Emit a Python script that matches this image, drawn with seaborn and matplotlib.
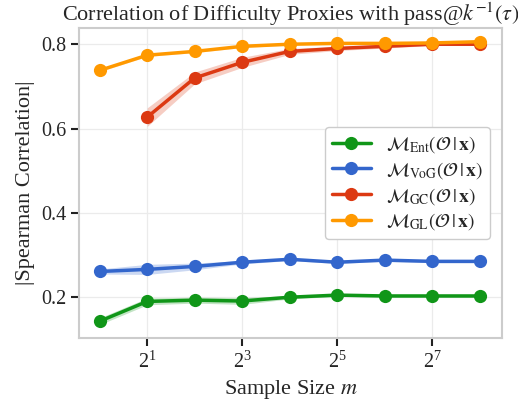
import numpy as np
import pandas as pd
import matplotlib
matplotlib.use("Agg")
import matplotlib.pyplot as plt
from matplotlib.ticker import LogFormatterSciNotation, NullLocator
import seaborn as sns

# datos
sample_sizes = [1, 2, 4, 8, 16, 32, 64, 128, 256]

ent_mean = [0.143, 0.190, 0.193, 0.191, 0.200, 0.205, 0.203, 0.203, 0.203]
ent_err = [0.008, 0.008, 0.007, 0.008, 0.004, 0.003, 0.003, 0.003, 0.003]

vog_mean = [0.261, 0.266, 0.273, 0.283, 0.290, 0.283, 0.288, 0.285, 0.285]
vog_err = [0.006, 0.012, 0.008, 0.004, 0.003, 0.003, 0.003, 0.003, 0.003]

gc_sizes = [2, 4, 8, 16, 32, 64, 128, 256]
gc_mean = [0.627, 0.720, 0.757, 0.783, 0.790, 0.795, 0.800, 0.800]
gc_err = [0.022, 0.014, 0.012, 0.007, 0.005, 0.004, 0.003, 0.003]

gl_mean = [0.738, 0.774, 0.783, 0.795, 0.800, 0.802, 0.802, 0.803, 0.806]
gl_err = [0.003, 0.003, 0.003, 0.003, 0.002, 0.002, 0.002, 0.002, 0.002]

labels = [r"$\mathcal{M}_{\mathrm{Ent}}(\mathcal{O}\,|\,\mathbf{x})$",
          r"$\mathcal{M}_{\mathrm{VoG}}(\mathcal{O}\,|\,\mathbf{x})$",
          r"$\mathcal{M}_{\mathrm{GC}}(\mathcal{O}\,|\,\mathbf{x})$",
          r"$\mathcal{M}_{\mathrm{GL}}(\mathcal{O}\,|\,\mathbf{x})$"]
colores = ["#109618", "#3366cc", "#dc3912", "#ff9900"]

sns.set_theme(style="ticks")
plt.rcParams["font.family"] = ["Liberation Serif", "DejaVu Serif"]
plt.rcParams["mathtext.fontset"] = "stix"

series = [
    (sample_sizes, ent_mean, ent_err),
    (sample_sizes, vog_mean, vog_err),
    (gc_sizes, gc_mean, gc_err),
    (sample_sizes, gl_mean, gl_err),
]

fig, ax = plt.subplots(figsize=(5.18, 4.03), dpi=100)
ax.grid(True, color="#ebebeb", linewidth=0.9)
ax.set_axisbelow(True)

for (xs, m, e), lab, c in zip(series, labels, colores):
    df = pd.DataFrame({"m": xs, "corr": m})
    m = np.array(m)
    e = np.array(e)
    ax.fill_between(xs, m - e, m + e, color=c, alpha=0.25, linewidth=0)
    sns.lineplot(data=df, x="m", y="corr", ax=ax, color=c, label=lab,
                 marker="o", markersize=9.5, linewidth=2.5, markeredgewidth=0)

ax.set_xscale("log", base=2)
ax.set_xticks([2, 8, 32, 128])
ax.xaxis.set_major_formatter(LogFormatterSciNotation(base=2))
ax.xaxis.set_minor_locator(NullLocator())
ax.set_xlim(2 ** -0.43, 2 ** 8.47)
ax.set_ylim(0.103, 0.838)
ax.set_yticks([0.2, 0.4, 0.6, 0.8])

for s in ax.spines.values():
    s.set_color("#cccccc")
    s.set_linewidth(1.5)
ax.tick_params(axis="both", labelsize=14.5, length=6, width=1.5, color="#222222")

ax.set_title(r"Correlation of Difficulty Proxies with pass@$k^{-1}(\tau)$", fontsize=16, pad=5)
ax.set_xlabel(r"Sample Size $m$", fontsize=16)
ax.set_ylabel("|Spearman Correlation|", fontsize=16)

ax.legend(loc="center right", fontsize=14, frameon=True, framealpha=1,
          edgecolor="#cccccc", handlelength=2.0, labelspacing=0.25,
          borderpad=0.35, borderaxespad=0.6)

plt.subplots_adjust(left=0.153, right=0.969, top=0.93, bottom=0.161)
plt.savefig("out.png", dpi=100)
